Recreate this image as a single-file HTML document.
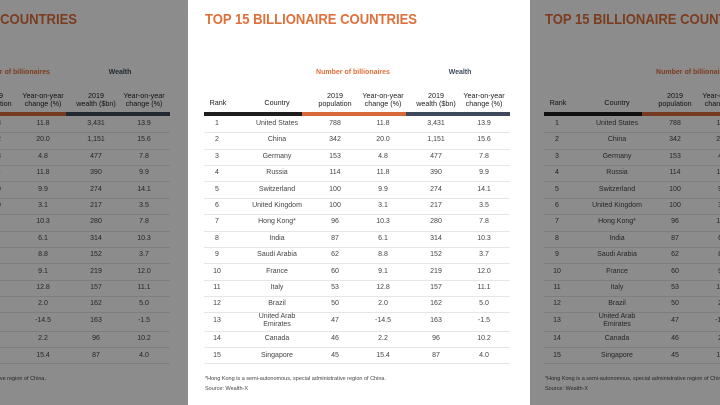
<!DOCTYPE html>
<html><head><meta charset="utf-8"><style>
html,body{margin:0;padding:0;width:720px;height:405px;overflow:hidden;background:#fff;font-family:"Liberation Sans",sans-serif}
#root{position:absolute;left:0;top:0;width:720px;height:405px;overflow:hidden}
.p{position:absolute;top:0;width:720px;height:405px}
.t{position:absolute;white-space:nowrap;transform:translate(-50%,-50%);color:#444;font-size:7px;text-align:center;line-height:8px}
.ov{position:absolute;top:0;height:405px;background:rgba(0,0,0,0.45)}
</style></head><body>
<div id="root"></div>
<div class="ov" style="left:0;width:188px"></div>
<div class="ov" style="left:530px;width:190px"></div>
<script>
var rows=[["1","United States","788","11.8","3,431","13.9"],["2","China","342","20.0","1,151","15.6"],["3","Germany","153","4.8","477","7.8"],["4","Russia","114","11.8","390","9.9"],["5","Switzerland","100","9.9","274","14.1"],["6","United Kingdom","100","3.1","217","3.5"],["7","Hong Kong*","96","10.3","280","7.8"],["8","India","87","6.1","314","10.3"],["9","Saudi Arabia","62","8.8","152","3.7"],["10","France","60","9.1","219","12.0"],["11","Italy","53","12.8","157","11.1"],["12","Brazil","50","2.0","162","5.0"],["13","United Arab<br>Emirates","47","-14.5","163","-1.5"],["14","Canada","46","2.2","96","10.2"],["15","Singapore","45","15.4","87","4.0"]];
var cx=[218,277,335,383,436,484];
function panel(off){
 var h='<div class="p" style="left:'+off+'px">';
 h+='<div style="position:absolute;left:205px;top:11px;font-size:15px;font-weight:bold;color:#e0703a;transform:scaleX(0.87);transform-origin:0 0">TOP 15 BILLIONAIRE COUNTRIES</div>';
 h+='<div class="t" style="left:353px;top:73px;color:#e0703a;font-weight:bold">Number of billionaires</div>';
 h+='<div class="t" style="left:460px;top:73px;color:#3e4a5c;font-weight:bold">Wealth</div>';
 var hd=["Rank","Country","2019<br>population","Year-on-year<br>change (%)","2019<br>wealth ($bn)","Year-on-year<br>change (%)"];
 for(var i=0;i<6;i++){h+='<div class="t" style="left:'+cx[i]+'px;top:'+(i<2?103:100)+'px;color:#222;font-size:7.2px">'+hd[i]+'</div>';}
 h+='<div style="position:absolute;left:204px;top:112px;width:98px;height:4px;background:#1e1e1e"></div>';
 h+='<div style="position:absolute;left:302px;top:112px;width:104px;height:4px;background:#d9683a"></div>';
 h+='<div style="position:absolute;left:406px;top:112px;width:104px;height:4px;background:#3e4a5c"></div>';
 var ys=[];for(var r=0;r<12;r++)ys.push(124+r*16.4);ys.push(321);ys.push(339);ys.push(355.5);
 for(var r=0;r<15;r++){
  for(var i=0;i<6;i++){h+='<div class="t" style="left:'+(i==0?cx[0]-1:cx[i])+'px;top:'+ys[r]+'px">'+rows[r][i]+'</div>';}
  var ly=(r<11?ys[r]+8.2:r==11?312:r==12?331:r==13?347:363);
  h+='<div style="position:absolute;left:204px;top:'+ly+'px;width:306px;height:1px;background:#e6e6e6"></div>';
 }
 h+='<div style="position:absolute;left:205px;top:376px;font-size:5.5px;color:#444">*Hong Kong is a semi-autonomous, special administrative region of China.</div>';
 h+='<div style="position:absolute;left:205px;top:386px;font-size:5.5px;color:#444">Source: Wealth-X</div>';
 return h+'</div>';
}
document.getElementById('root').innerHTML=panel(-340)+panel(340)+panel(0);
</script>
</body></html>
